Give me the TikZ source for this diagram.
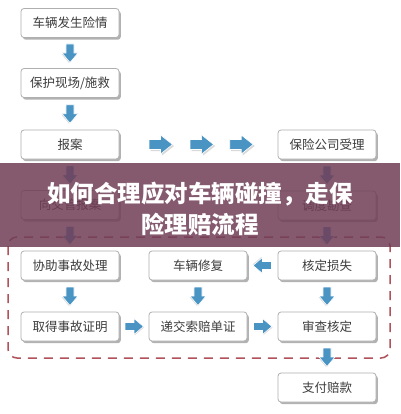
\documentclass[tikz,border=0pt]{standalone}
\usepackage{fontspec}
\newfontfamily\cjk{Noto Sans CJK SC}
\usetikzlibrary{shadows}
\definecolor{arrowblue}{RGB}{74,148,196}
\definecolor{dashred}{RGB}{175,82,92}
\definecolor{bannercol}{RGB}{112,62,86}
\definecolor{boxtext}{RGB}{60,60,60}
\definecolor{boxline}{RGB}{175,175,175}
\tikzset{
  stepbox/.style={draw=boxline, line width=0.8pt, fill=white, rounded corners=3pt,
    minimum width=98pt, minimum height=29pt, inner sep=0pt,
    font=\cjk\fontsize{12.5}{14}\selectfont, text=boxtext,
    drop shadow={shadow xshift=1.8pt, shadow yshift=-2.2pt, fill=black, opacity=.3}},
  barrow/.pic={
    \fill[black, opacity=.15] (-7.5,-2.5) -- (1,-2.5) -- (1,-6.5) -- (10,1) -- (1,8.5) -- (1,4.5) -- (-7.5,4.5) -- cycle;
    \fill[arrowblue, draw=white, line width=0.6pt] (-9,-4) -- (0,-4) -- (0,-8) -- (9.5,0) -- (0,8) -- (0,4) -- (-9,4) -- cycle;
  },
  bigarrow/.pic={
    \fill[black, opacity=.15] (-10,-3.5) -- (1.5,-3.5) -- (1.5,-8) -- (13.5,1.5) -- (1.5,11) -- (1.5,6.5) -- (-10,6.5) -- cycle;
    \fill[arrowblue, draw=white, line width=0.6pt] (-11.5,-5) -- (0,-5) -- (0,-9.5) -- (12,0) -- (0,9.5) -- (0,5) -- (-11.5,5) -- cycle;
  },
  onpath/.style={pos=.5, sloped, allow upside down},
}
\begin{document}
\begin{tikzpicture}[x=1pt,y=-1pt]
\useasboundingbox (0,0) rectangle (400,414);
\fill[white] (0,0) rectangle (400,414);

% dashed region
\draw[dashred, line width=1.5pt, dash pattern=on 9pt off 7pt, rounded corners=9pt] (8,237) rectangle (390,358);

% left column
\node[stepbox] (fasheng) at (70,23) {车辆发生险情};
\node[stepbox] (baohu) at (70,83) {保护现场/施救};
\node[stepbox] (baoan) at (70,144.5) {报案};
\node[stepbox] (jiaoguan) at (70,205) {向交管报案};
% right column top
\node[stepbox] (shouli) at (327,144.5) {保险公司受理};
\node[stepbox] (kancha) at (327,205.5) {调度勘查};
% dashed area
\node[stepbox] (xiezhu) at (70,265.5) {协助事故处理};
\node[stepbox] (xiufu) at (198,265.5) {车辆修复};
\node[stepbox] (sunshi) at (327,265.5) {核定损失};
\node[stepbox] (zhengming) at (70,326.5) {取得事故证明};
\node[stepbox] (dizhen) at (198,326.5) {递交索赔单证};
\node[stepbox] (shencha) at (327,326.5) {审查核定};
\node[stepbox] (zhifu) at (327,387.5) {支付赔款};

% connectors
\path (fasheng) -- (baohu) pic[onpath]{barrow};
\path (baohu) -- (baoan) pic[onpath]{barrow};
\path (baoan) -- (jiaoguan) pic[onpath]{barrow};
\path (jiaoguan) -- (xiezhu) pic[onpath]{barrow};
\path (baoan) -- (shouli)
  pic[pos=.26, sloped]{bigarrow}
  pic[pos=.52, sloped]{bigarrow}
  pic[pos=.77, sloped]{bigarrow};
\path (shouli) -- (kancha) pic[onpath]{barrow};
\path (kancha) -- (sunshi) pic[onpath]{barrow};
\path (sunshi) -- (xiufu) pic[onpath]{barrow};
\path (xiezhu) -- (zhengming) pic[onpath]{barrow};
\path (xiufu) -- (dizhen) pic[onpath]{barrow};
\path (sunshi) -- (shencha) pic[onpath]{barrow};
\path (zhengming) -- (dizhen) pic[onpath]{barrow};
\path (dizhen) -- (shencha) pic[onpath]{barrow};
\path (shencha) -- (zhifu) pic[onpath]{barrow};

% banner
\fill[bannercol, opacity=.85] (0,163) rectangle (400,246.5);
\node[text=white, font=\cjk\bfseries\fontsize{23.5}{31}\selectfont, align=center, inner sep=0pt] (title) at (200,208.5) {如何合理应对车辆碰撞，走保\\险理赔流程};
\end{tikzpicture}
\end{document}
